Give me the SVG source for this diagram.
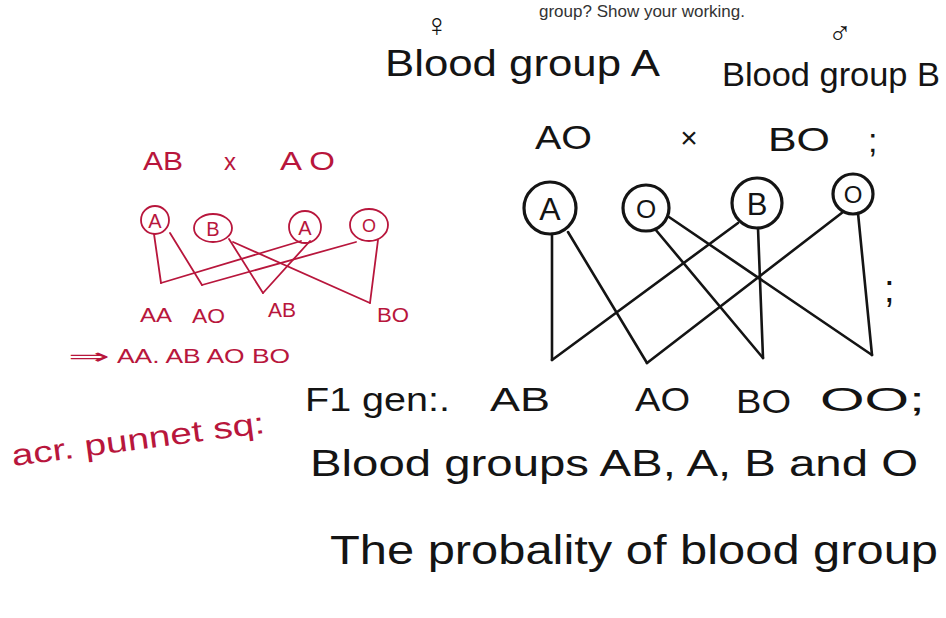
<svg xmlns="http://www.w3.org/2000/svg" width="946" height="618" viewBox="0 0 946 618">
<style>
.ink{fill:#141414;font-family:"Liberation Sans","DejaVu Sans",sans-serif}
.red{fill:#b8163c;font-family:"Liberation Sans","DejaVu Sans",sans-serif}
.bc{fill:none;stroke:#141414;stroke-width:3.2}
.rc{fill:none;stroke:#b8163c;stroke-width:1.8}
.bl{stroke:#141414;stroke-width:2.6;fill:none;stroke-linecap:round}
.rl{stroke:#b8163c;stroke-width:1.8;fill:none;stroke-linecap:round}
</style>
<rect width="946" height="618" fill="#ffffff"/>
<text x="745" y="17" text-anchor="end" font-size="17" fill="#333" font-family="Liberation Sans,sans-serif">group? Show your working.</text>

<g id="heading-mother">
<text class="ink" x="437" y="36" font-size="32" text-anchor="middle">♀</text>
<text class="ink" x="385" y="76" font-size="36" textLength="275" lengthAdjust="spacingAndGlyphs">Blood group A</text>
</g>
<g id="heading-father">
<text class="ink" x="840" y="44" font-size="32" text-anchor="middle">♂</text>
<text class="ink" x="722" y="86" font-size="34" textLength="218" lengthAdjust="spacingAndGlyphs">Blood group B</text>
</g>
<g id="cross-black">
<text class="ink" x="535" y="149" font-size="33" textLength="57" lengthAdjust="spacingAndGlyphs">AO</text>
<text class="ink" x="689" y="148" font-size="30" text-anchor="middle">×</text>
<text class="ink" x="768" y="151" font-size="33" textLength="62" lengthAdjust="spacingAndGlyphs">BO</text>
<text class="ink" x="868" y="152" font-size="34">;</text>
</g>

<g id="gamete-A"><circle class="bc" cx="550" cy="208" r="26"/><text class="ink" x="550" y="220" font-size="32" text-anchor="middle">A</text></g>
<g id="gamete-O1"><circle class="bc" cx="646" cy="208" r="23"/><text class="ink" x="646" y="218" font-size="26" text-anchor="middle">O</text></g>
<g id="gamete-B"><circle class="bc" cx="757" cy="203" r="25"/><text class="ink" x="757" y="215" font-size="31" text-anchor="middle">B</text></g>
<g id="gamete-O2"><circle class="bc" cx="853" cy="194" r="20"/><text class="ink" x="853" y="203" font-size="24" text-anchor="middle">O</text></g>

<g id="connectors">
<line class="bl" x1="552" y1="234" x2="552" y2="360"/>
<line class="bl" x1="568" y1="232" x2="647" y2="363"/>
<line class="bl" x1="655" y1="229" x2="763" y2="358"/>
<line class="bl" x1="669" y1="217" x2="872" y2="355"/>
<line class="bl" x1="738" y1="223" x2="552" y2="360"/>
<line class="bl" x1="758" y1="228" x2="763" y2="358"/>
<line class="bl" x1="843" y1="212" x2="647" y2="363"/>
<line class="bl" x1="858" y1="213" x2="872" y2="355"/>
<line class="rl" x1="154" y1="234" x2="161" y2="283"/>
<line class="rl" x1="161" y1="283" x2="301" y2="241"/>
<line class="rl" x1="170" y1="233" x2="202" y2="285"/>
<line class="rl" x1="202" y1="285" x2="356" y2="242"/>
<line class="rl" x1="229" y1="239" x2="263" y2="293"/>
<line class="rl" x1="310" y1="241" x2="263" y2="293"/>
<line class="rl" x1="233" y1="242" x2="370" y2="303"/>
<line class="rl" x1="378" y1="240" x2="370" y2="303"/>
</g>
<text class="ink" x="884" y="302" font-size="38">;</text>

<g id="f1-row">
<text class="ink" x="305" y="411" font-size="34" textLength="145" lengthAdjust="spacingAndGlyphs">F1 gen:.</text>
<text class="ink" x="490" y="411" font-size="34" textLength="60" lengthAdjust="spacingAndGlyphs">AB</text>
<text class="ink" x="635" y="411" font-size="34" textLength="55" lengthAdjust="spacingAndGlyphs">AO</text>
<text class="ink" x="736" y="413" font-size="34" textLength="55" lengthAdjust="spacingAndGlyphs">BO</text>
<text class="ink" x="820" y="411" font-size="34" textLength="105" lengthAdjust="spacingAndGlyphs">OO;</text>
</g>
<text class="ink" x="310" y="476" font-size="36" textLength="608" lengthAdjust="spacingAndGlyphs">Blood groups AB, A, B and O</text>
<text class="ink" x="330" y="564" font-size="40" textLength="608" lengthAdjust="spacingAndGlyphs">The probality of blood group</text>

<g id="cross-red">
<text class="red" x="143" y="170" font-size="26" textLength="40" lengthAdjust="spacingAndGlyphs">AB</text>
<text class="red" x="230" y="170" font-size="24" text-anchor="middle">x</text>
<text class="red" x="280" y="170" font-size="26" textLength="55" lengthAdjust="spacingAndGlyphs">A O</text>
</g>
<g id="red-gamete-A1"><circle class="rc" cx="155" cy="220" r="14"/><text class="red" x="155" y="228" font-size="20" text-anchor="middle">A</text></g>
<g id="red-gamete-B"><ellipse class="rc" cx="213" cy="228" rx="19" ry="14"/><text class="red" x="213" y="236" font-size="20" text-anchor="middle">B</text></g>
<g id="red-gamete-A2"><circle class="rc" cx="305" cy="227" r="16"/><text class="red" x="305" y="235" font-size="20" text-anchor="middle">A</text></g>
<g id="red-gamete-O"><ellipse class="rc" cx="369" cy="225" rx="19" ry="16"/><text class="red" x="369" y="232" font-size="18" text-anchor="middle">O</text></g>
<g id="red-offspring">
<text class="red" x="140" y="322" font-size="20" textLength="32" lengthAdjust="spacingAndGlyphs">AA</text>
<text class="red" x="192" y="323" font-size="20" textLength="33" lengthAdjust="spacingAndGlyphs">AO</text>
<text class="red" x="268" y="317" font-size="20" textLength="28" lengthAdjust="spacingAndGlyphs">AB</text>
<text class="red" x="377" y="322" font-size="20" textLength="32" lengthAdjust="spacingAndGlyphs">BO</text>
</g>
<g id="red-result">
<text class="red" x="68" y="364" font-size="22" textLength="42" lengthAdjust="spacingAndGlyphs">⇒</text>
<text class="red" x="117" y="363" font-size="20" textLength="173" lengthAdjust="spacingAndGlyphs">AA. AB AO BO</text>
</g>
<text class="red" x="13" y="466" font-size="30" textLength="255" lengthAdjust="spacingAndGlyphs" transform="rotate(-7.5 13 466)">acr. punnet sq:</text>
</svg>
